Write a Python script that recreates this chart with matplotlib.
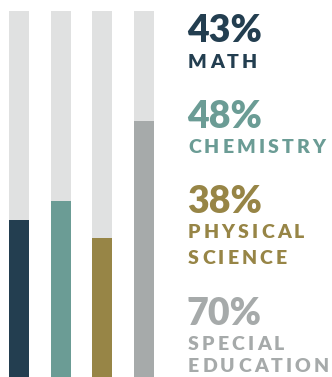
import matplotlib.pyplot as plt

# values
subjects = ['MATH', 'CHEMISTRY', 'PHYSICAL\nSCIENCE', 'SPECIAL\nEDUCATION']
percents = [43, 48, 38, 70]
colors = ['#233e50', '#6b9c95', '#978546', '#a6aaaa']
track = '#e0e1e1'

W, H = 332, 377
fig = plt.figure(figsize=(W/100, H/100), dpi=100)
rend = fig.canvas.get_renderer()

# bar axes, in pixels: bars from x=9 to 154, top at y=11
ax = fig.add_axes([9/W, 0, 145/W, 366/H])
x = range(len(percents))
ax.bar(x, [100]*len(percents), width=0.48, color=track, linewidth=0)
ax.bar(x, percents, width=0.48, color=colors, linewidth=0)
ax.set_xlim(-0.24, 3.24)
ax.set_ylim(0, 100)
ax.axis('off')

def spaced_text(x0, y, s, tracking, **kw):
    # matplotlib has no letter spacing, so place the letters one by one
    xp = x0
    for ch in s:
        t = fig.text(xp/W, 1 - y/H, ch, va='baseline', ha='left', **kw)
        xp += t.get_window_extent(rend).width + tracking

# baselines (px from top) of the number and label lines
num_base = [42, 128, 213, 325]
lab_base = [[68], [153], [238, 264], [350, 372]]

for pct, name, c, nb, lbs in zip(percents, subjects, colors, num_base, lab_base):
    fig.text(187/W, 1 - nb/H, '%d%%' % pct, color=c, fontsize=27,
             fontweight='heavy', family='Lato', va='baseline', ha='left')
    for line, lb in zip(name.split('\n'), lbs):
        spaced_text(188, lb, line, 3.1, color=c, fontsize=14,
                    fontweight='heavy', family='Lato')

fig.savefig('out.png', dpi=100)
